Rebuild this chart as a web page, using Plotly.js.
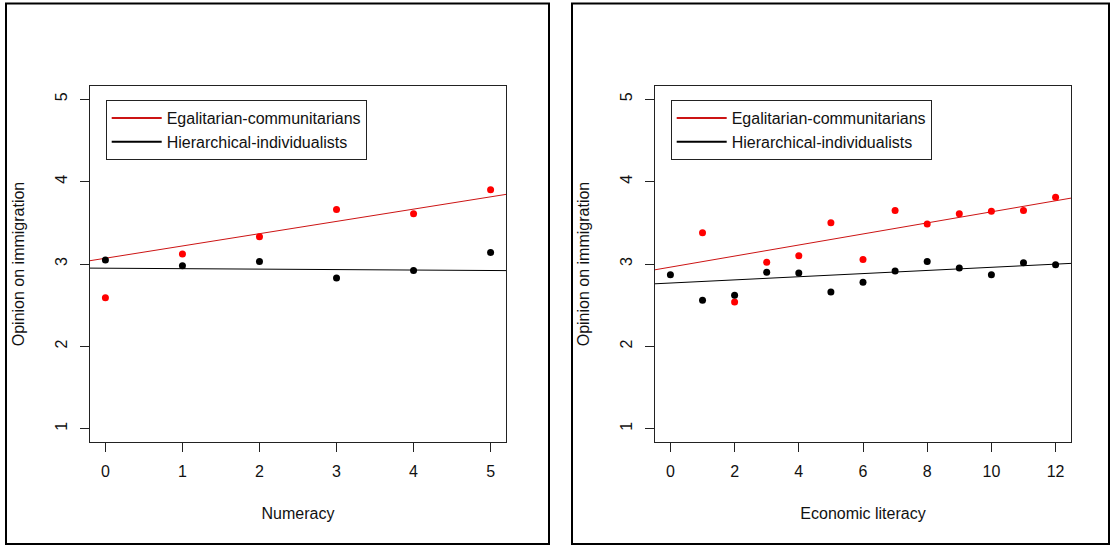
<!DOCTYPE html>
<html>
<head>
<meta charset="utf-8">
<script src="https://cdn.plot.ly/plotly-3.0.1.min.js"></script>
<style>
html,body{margin:0;padding:0;background:#fff;}
#chart{width:1111px;height:546px;}
</style>
</head>
<body>
<div id="chart"></div>
<script>
// ---- Data ----
const groupNames = ["Egalitarian-communitarians", "Hierarchical-individualists"];

const numeracy = [0, 1, 2, 3, 4, 5];
const numeracyEgal = [2.59, 3.12, 3.33, 3.66, 3.61, 3.90];
const numeracyHier = [3.05, 2.98, 3.03, 2.83, 2.92, 3.14];
// fitted lines: [intercept, slope]
const numeracyFitEgal = [3.07, 0.149];
const numeracyFitHier = [2.949, -0.0056];

const econLiteracy = [0, 1, 2, 3, 4, 5, 6, 7, 8, 9, 10, 11, 12];
const econEgal = [null, 3.38, 2.54, 3.02, 3.10, 3.50, 3.055, 3.65, 3.485, 3.61, 3.64, 3.65, 3.81];
const econHier = [2.87, 2.56, 2.62, 2.90, 2.89, 2.66, 2.78, 2.915, 3.03, 2.95, 2.87, 3.015, 2.99];
const econFitEgal = [2.962, 0.0671];
const econFitHier = [2.769, 0.0191];

const yTicks = [1, 2, 3, 4, 5];
const numeracyTicks = [0, 1, 2, 3, 4, 5];
const econTicks = [0, 2, 4, 6, 8, 10, 12];

const xTitles = ["Numeracy", "Economic literacy"];
const yTitle = "Opinion on immigration";

// ---- Styles ----
const RED = "#ff0000";
const LINE_RED = "#cc1414";
const BLACK = "#000000";
const FONT = "Arial, 'Liberation Sans', sans-serif";

const W = 1111, H = 546;
const px = v => v / W;
const py = v => 1 - v / H;

const xr1 = [-0.2, 5.2];
const xr2 = [-0.48, 12.48];
const yr = [0.84, 5.16];

function fitLine(fit, range, name, color, xa, ya) {
  return {
    x: range.slice(),
    y: range.map(v => fit[0] + fit[1] * v),
    mode: "lines", type: "scatter", name: name,
    line: {color: color, width: 1}, showlegend: false,
    xaxis: xa, yaxis: ya, hoverinfo: "skip"
  };
}
function legendEntry(name, color, xa, ya, leg) {
  return {
    x: [null], y: [null], mode: "lines", type: "scatter", name: name,
    line: {color: color, width: 2}, xaxis: xa, yaxis: ya, legend: leg
  };
}
function pts(x, y, color, xa, ya, name) {
  return {
    x: x, y: y, mode: "markers", type: "scatter", name: name,
    marker: {color: color, size: 7},
    xaxis: xa, yaxis: ya, showlegend: false
  };
}

const traces = [
  fitLine(numeracyFitEgal, xr1, groupNames[0], LINE_RED, "x", "y"),
  fitLine(numeracyFitHier, xr1, groupNames[1], BLACK, "x", "y"),
  pts(numeracy, numeracyEgal, RED, "x", "y", groupNames[0]),
  pts(numeracy, numeracyHier, BLACK, "x", "y", groupNames[1]),
  legendEntry(groupNames[0], LINE_RED, "x", "y", "legend"),
  legendEntry(groupNames[1], BLACK, "x", "y", "legend"),
  fitLine(econFitEgal, xr2, groupNames[0], LINE_RED, "x2", "y2"),
  fitLine(econFitHier, xr2, groupNames[1], BLACK, "x2", "y2"),
  pts(econLiteracy, econEgal, RED, "x2", "y2", groupNames[0]),
  pts(econLiteracy, econHier, BLACK, "x2", "y2", groupNames[1]),
  legendEntry(groupNames[0], LINE_RED, "x2", "y2", "legend2"),
  legendEntry(groupNames[1], BLACK, "x2", "y2", "legend2")
];

const axisCommon = {
  showgrid: false, zeroline: false, showline: true, mirror: true,
  linecolor: "#222", linewidth: 1, ticks: "outside", ticklen: 9, tickwidth: 1,
  tickcolor: "#222", tickfont: {family: FONT, size: 16, color: "#111"},
  fixedrange: true
};
function xAxis(domain, range, ticks, title, anchor) {
  return Object.assign({}, axisCommon, {
    domain: domain, range: range, tickmode: "array", tickvals: ticks,
    ticktext: ticks.map(String), anchor: anchor, ticklabelstandoff: 6,
    title: {text: title, font: {family: FONT, size: 16, color: "#111"}, standoff: 28}
  });
}
function yAxis(range, anchor) {
  return Object.assign({}, axisCommon, {
    domain: [1 - 442 / H, 1 - 86 / H], range: range, tickmode: "array",
    tickvals: yTicks, ticktext: yTicks.map(String), tickangle: -90, anchor: anchor,
    ticklabelstandoff: 7,
    title: {text: yTitle, font: {family: FONT, size: 16, color: "#111"}, standoff: 23}
  });
}

const legendCommon = {
  xanchor: "left", yanchor: "top", bgcolor: "#fff", bordercolor: "#222",
  borderwidth: 1, font: {family: FONT, size: 16, color: "#111"}, itemwidth: 50,
  tracegroupgap: 0
};

const layout = {
  width: W, height: H,
  margin: {l: 0, r: 0, t: 0, b: 0},
  paper_bgcolor: "#fff", plot_bgcolor: "#fff",
  showlegend: true,
  xaxis: xAxis([px(90), px(506)], xr1, numeracyTicks, xTitles[0], "y"),
  yaxis: yAxis(yr, "x"),
  xaxis2: xAxis([px(655), px(1071)], xr2, econTicks, xTitles[1], "y2"),
  yaxis2: yAxis(yr, "x2"),
  legend: Object.assign({}, legendCommon, {x: px(105.7), y: py(100)}),
  legend2: Object.assign({}, legendCommon, {x: px(670.7), y: py(100)}),
  shapes: [
    {type: "rect", xref: "paper", yref: "paper", x0: px(6), x1: px(549), y0: py(544), y1: py(3.5),
     line: {color: "#000", width: 2}},
    {type: "rect", xref: "paper", yref: "paper", x0: px(572), x1: px(1109), y0: py(544), y1: py(3.5),
     line: {color: "#000", width: 2}}
  ]
};

Plotly.newPlot("chart", traces, layout, {staticPlot: true, displayModeBar: false});
</script>
</body>
</html>
